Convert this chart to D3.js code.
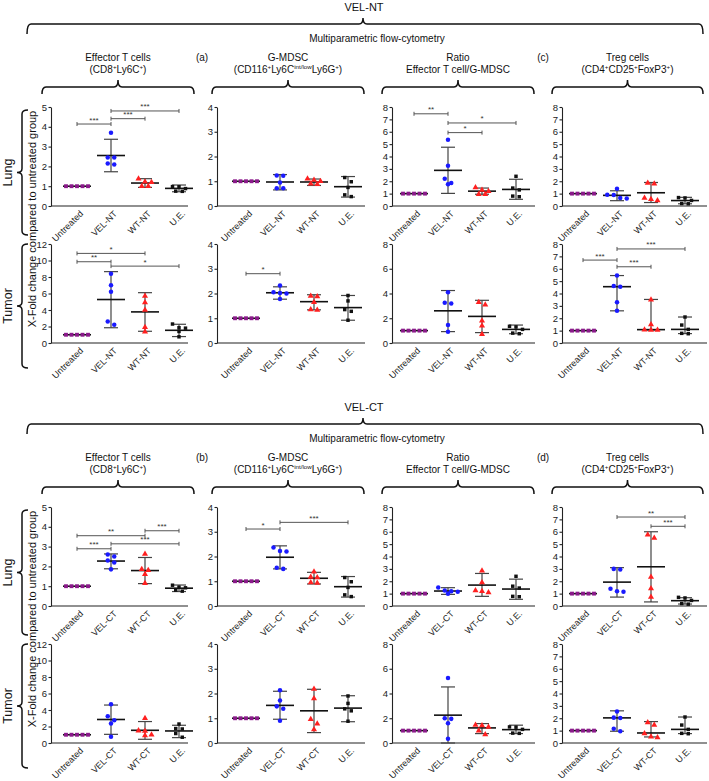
<!DOCTYPE html>
<html><head><meta charset="utf-8">
<script src="https://cdn.jsdelivr.net/npm/d3@7"></script>
<style>body{margin:0;background:#fff}svg{display:block}</style>
</head><body>
<svg id="c" width="709" height="781"></svg>
<script>
// ---------------- DATA ----------------
const groupsNT = ["Untreated", "VEL-NT", "WT-NT", "U.E."];
const groupsCT = ["Untreated", "VEL-CT", "WT-CT", "U.E."];
const sectionLabels = ["VEL-NT", "VEL-CT"];
const panelLetters = [["(a)", "(c)"], ["(b)", "(d)"]];
const rowLabels = ["Lung", "Tumor"];
const yTitle = "X-Fold change compared to untreated group";
const subTitle = "Multiparametric flow-cytometry";
const colTitles = ["Effector T cells", "G-MDSC", "Ratio", "Treg cells"];
const colSubTitles = [
  [["(CD8", 0], ["+", 1], ["Ly6C", 0], ["+", 1], [")", 0]],
  [["(CD116", 0], ["+", 1], ["Ly6C", 0], ["int/low", 1], ["Ly6G", 0], ["+", 1], [")", 0]],
  [["Effector T cell/G-MDSC", 0]],
  [["(CD4", 0], ["+", 1], ["CD25", 0], ["+", 1], ["FoxP3", 0], ["+", 1], [")", 0]]
];
const yMaxLung = [5, 4, 8, 8];
const yStepLung = [1, 1, 1, 1];
const yMaxTumor = [12, 4, 8, 8];
const yStepTumor = [2, 1, 2, 1];

// VEL-NT, Lung
const ntLungEffPts = [[1,1,1,1,1],[3.7,2.45,2.45,2.15,2.1],[1.38,1.22,1.2,1.0,1.0],[0.98,0.97,0.88,0.75,0.74]];
const ntLungEffMid = [1, 2.55, 1.16, 0.89];
const ntLungEffLo  = [1, 1.73, 0.94, 0.72];
const ntLungEffHi  = [1, 3.37, 1.38, 1.06];
const ntLungEffSig = [[0,1,4.14,"***"],[1,2,4.41,"***"],[1,3,4.8,"***"]];

const ntLungMdscPts = [[1,1,1,1,1],[1.23,1.22,0.95,0.72,0.72],[1.1,1.05,1.0,0.88,0.9],[1.15,0.98,0.75,0.45,0.38]];
const ntLungMdscMid = [1, 0.97, 0.97, 0.78];
const ntLungMdscLo  = [1, 0.65, 0.83, 0.36];
const ntLungMdscHi  = [1, 1.27, 1.09, 1.19];
const ntLungMdscSig = [];

const ntLungRatioPts = [[1,1,1,1,1],[5.35,3.25,2.2,1.85,1.75],[1.5,1.3,1.2,0.95,0.95],[2.4,1.45,1.3,0.8,0.75]];
const ntLungRatioMid = [1, 2.88, 1.2, 1.34];
const ntLungRatioLo  = [1, 1.02, 0.95, 0.54];
const ntLungRatioHi  = [1, 4.75, 1.45, 2.16];
const ntLungRatioSig = [[0,1,7.45,"**"],[1,2,5.93,"*"],[1,3,6.71,"*"]];

const ntLungTregPts = [[1,1,1,1,1],[1.4,0.9,0.88,0.65,0.6],[1.85,1.8,0.65,0.55,0.45],[0.68,0.65,0.45,0.2,0.18]];
const ntLungTregMid = [1, 0.86, 1.07, 0.44];
const ntLungTregLo  = [1, 0.43, 0.28, 0.18];
const ntLungTregHi  = [1, 1.23, 1.9, 0.7];
const ntLungTregSig = [];

// VEL-NT, Tumor
const ntTumEffPts = [[1,1,1,1,1],[8.4,7.0,6.2,2.6,2.2],[5.7,4.9,4.0,1.9,1.35],[2.3,1.85,1.8,1.4,0.75]];
const ntTumEffMid = [1, 5.27, 3.77, 1.54];
const ntTumEffLo  = [1, 1.85, 1.42, 0.78];
const ntTumEffHi  = [1, 8.65, 6.1, 2.27];
const ntTumEffSig = [[0,2,10.86,"*"],[0,1,9.85,"**"],[1,3,9.32,"*"]];

const ntTumMdscPts = [[1,1,1,1,1],[2.32,2.05,2.02,2.0,1.78],[1.9,1.88,1.65,1.35,1.33],[1.92,1.7,1.35,1.28,0.92]];
const ntTumMdscMid = [1, 2.03, 1.67, 1.43];
const ntTumMdscLo  = [1, 1.77, 1.34, 0.92];
const ntTumMdscHi  = [1, 2.27, 1.95, 1.92];
const ntTumMdscSig = [[0,1,2.8,"*"]];

const ntTumRatioPts = [[1,1,1,1,1],[4.1,3.25,3.2,1.45,0.9],[3.3,3.1,1.8,1.4,0.7],[1.35,1.3,1.1,0.8,0.75]];
const ntTumRatioMid = [1, 2.6, 2.15, 1.1];
const ntTumRatioLo  = [1, 0.92, 0.84, 0.75];
const ntTumRatioHi  = [1, 4.24, 3.45, 1.45];
const ntTumRatioSig = [];

const ntTumTregPts = [[1,1,1,1,1],[5.45,4.6,4.55,3.3,2.6],[3.5,1.5,1.07,1.05,1.05],[2.1,1.45,1.1,0.78,0.75]];
const ntTumTregMid = [1, 4.55, 1.08, 1.1];
const ntTumTregLo  = [1, 2.6, 1.05, 0.76];
const ntTumTregHi  = [1, 5.45, 3.52, 2.1];
const ntTumTregSig = [[0,1,6.7,"***"],[1,2,6.16,"***"],[1,3,7.6,"***"]];

// VEL-CT, Lung
const ctLungEffPts = [[1,1,1,1,1],[2.6,2.5,2.3,2.2,1.85],[2.63,1.85,1.8,1.6,1.15],[1.05,0.95,0.92,0.8,0.75]];
const ctLungEffMid = [1, 2.27, 1.79, 0.9];
const ctLungEffLo  = [1, 1.88, 1.13, 0.73];
const ctLungEffHi  = [1, 2.63, 2.45, 1.06];
const ctLungEffSig = [[0,2,3.55,"**"],[0,1,2.89,"***"],[1,3,3.14,"***"],[2,3,3.8,"***"]];

const ctLungMdscPts = [[1,1,1,1,1],[2.36,2.22,2.2,1.55,1.5],[1.38,1.17,1.15,0.95,0.93],[1.15,0.98,0.75,0.45,0.38]];
const ctLungMdscMid = [1, 1.97, 1.12, 0.78];
const ctLungMdscLo  = [1, 1.5, 0.89, 0.36];
const ctLungMdscHi  = [1, 2.43, 1.36, 1.19];
const ctLungMdscSig = [[0,1,3.11,"*"],[1,3,3.38,"***"]];

const ctLungRatioPts = [[1,1,1,1,1],[1.5,1.25,1.2,1.15,1.0],[2.85,1.9,1.25,1.2,1.1],[2.4,1.6,1.45,0.78,0.75]];
const ctLungRatioMid = [1, 1.21, 1.69, 1.37];
const ctLungRatioLo  = [1, 0.94, 0.78, 0.54];
const ctLungRatioHi  = [1, 1.48, 2.63, 2.17];
const ctLungRatioSig = [];

const ctLungTregPts = [[1,1,1,1,1],[3.0,2.95,1.4,1.2,1.15],[5.75,5.5,2.35,1.42,0.72],[0.7,0.65,0.45,0.2,0.15]];
const ctLungTregMid = [1, 1.93, 3.17, 0.43];
const ctLungTregLo  = [1, 0.72, 0.33, 0.16];
const ctLungTregHi  = [1, 3.1, 6.0, 0.67];
const ctLungTregSig = [[1,3,7.19,"**"],[2,3,6.44,"***"]];

// VEL-CT, Tumor
const ctTumEffPts = [[1,1,1,1,1],[4.7,3.25,2.75,2.35,0.75],[3.0,1.5,1.45,1.0,0.9],[2.3,1.75,1.7,1.15,0.7]];
const ctTumEffMid = [1, 2.85, 1.54, 1.46];
const ctTumEffLo  = [1, 1.05, 0.45, 0.65];
const ctTumEffHi  = [1, 4.6, 2.6, 2.15];
const ctTumEffSig = [];

const ctTumMdscPts = [[1,1,1,1,1],[2.13,1.72,1.48,1.38,0.9],[2.18,1.8,0.96,0.78,0.55],[1.9,1.6,1.38,1.3,0.88]];
const ctTumMdscMid = [1, 1.52, 1.3, 1.41];
const ctTumMdscLo  = [1, 0.96, 0.42, 0.86];
const ctTumMdscHi  = [1, 2.09, 2.17, 1.91];
const ctTumMdscSig = [];

const ctTumRatioPts = [[1,1,1,1,1],[5.25,2.0,1.95,1.6,0.35],[1.45,1.42,1.3,1.0,0.68],[1.3,1.28,1.1,0.8,0.78]];
const ctTumRatioMid = [1, 2.25, 1.22, 1.08];
const ctTumRatioLo  = [1, 0, 0.76, 0.76];
const ctTumRatioHi  = [1, 4.53, 1.57, 1.44];
const ctTumRatioSig = [];

const ctTumTregPts = [[1,1,1,1,1],[2.55,2.05,2.02,1.15,0.95],[1.65,1.45,0.76,0.5,0.45],[2.1,1.45,1.1,0.78,0.75]];
const ctTumTregMid = [1, 2.03, 0.81, 1.1];
const ctTumTregLo  = [1, 0.95, 0.49, 0.76];
const ctTumTregHi  = [1, 2.6, 1.73, 2.1];
const ctTumTregSig = [];

// ---------------- LAYOUT / STYLE ----------------
const FONT = "Liberation Sans, Arial, Helvetica, sans-serif";
const groupColors = ["#8b1a8b", "#1a1aff", "#ff2020", "#111111"];
const groupSymbols = [d3.symbolSquare, d3.symbolCircle, d3.symbolTriangle, d3.symbolSquare];
const groupSizes = [15, 16, 16, 12];
const secOffset = [0, 400];
const axisX = [51, 217, 392, 562];
const axisEnd = [188, 365, 535, 707];
const catStart = [77, 246, 414, 583];
const rowY = [[107, 206], [244, 343]];
const braceCols = [[42, 194], [212, 364], [382, 534], [552, 703]];

const svg = d3.select("#c").attr("font-family", FONT);

function hBrace(g, x1, x2, y, depth, peak, xm) {
  xm = xm === undefined ? (x1 + x2) / 2 : xm;
  const r = 4;
  const p = `M${x1},${y + depth} Q${x1},${y} ${x1 + r},${y} L${xm - r},${y} Q${xm},${y} ${xm},${y - peak} Q${xm},${y} ${xm + r},${y} L${x2 - r},${y} Q${x2},${y} ${x2},${y + depth}`;
  g.append("path").attr("d", p).attr("fill", "none").attr("stroke", "#111").attr("stroke-width", 1.5);
}
function vBrace(g, x, y1, y2, depth, peak) {
  const ym = (y1 + y2) / 2, r = 4;
  const p = `M${x + depth},${y1} Q${x},${y1} ${x},${y1 + r} L${x},${ym - r} Q${x},${ym} ${x - peak},${ym} Q${x},${ym} ${x},${ym + r} L${x},${y2 - r} Q${x},${y2} ${x + depth},${y2}`;
  g.append("path").attr("d", p).attr("fill", "none").attr("stroke", "#111").attr("stroke-width", 1.5);
}
function richText(t, parts, size) {
  let shifted = false;
  parts.forEach(p => {
    const ts = t.append("tspan").text(p[0]);
    if (p[1]) {
      ts.attr("font-size", size * 0.62);
      if (!shifted) { ts.attr("dy", -size * 0.38); shifted = true; }
    } else {
      ts.attr("font-size", size);
      if (shifted) { ts.attr("dy", size * 0.38); shifted = false; }
    }
  });
}

function jitterOffsets(py, spacing) {
  const idx = py.map((v, i) => i).sort((a, b) => py[a] - py[b]);
  const off = new Array(py.length).fill(0);
  let clusters = [], cur = [idx[0]];
  for (let k = 1; k < idx.length; k++) {
    if (Math.abs(py[idx[k]] - py[cur[0]]) < 4.5) cur.push(idx[k]);
    else { clusters.push(cur); cur = [idx[k]]; }
  }
  clusters.push(cur);
  clusters.forEach(c => c.forEach((i, k) => { off[i] = (k - (c.length - 1) / 2) * spacing; }));
  return off;
}

function drawPanel(sec, row, col, groups, pts, mid, lo, hi, sig, ymax, step) {
  const off = secOffset[sec];
  const [yt, yb] = rowY[row];
  const g = svg.append("g");
  const y = d3.scaleLinear().domain([0, ymax]).range([yb + off, yt + off]);
  const x = d3.scalePoint().domain(groups).range([catStart[col], catStart[col] + 102]);
  // y axis
  const ya = g.append("g").attr("transform", `translate(${axisX[col]},0)`)
    .call(d3.axisLeft(y).tickValues(d3.range(0, ymax + 0.001, step)).tickSize(2.5).tickSizeOuter(0).tickPadding(1.5).tickFormat(d3.format("d")));
  ya.select(".domain").attr("stroke", "#222").attr("stroke-width", 1.1);
  ya.selectAll(".tick line").attr("stroke", "#222").attr("stroke-width", 1.1);
  ya.selectAll(".tick text").attr("font-size", 9.5).attr("fill", "#222").attr("font-family", FONT);
  // x axis
  g.append("line").attr("x1", axisX[col]).attr("x2", axisEnd[col]).attr("y1", y(0)).attr("y2", y(0))
    .attr("stroke", "#222").attr("stroke-width", 1.1);
  const xa = g.append("g").attr("transform", `translate(0,${y(0)})`)
    .call(d3.axisBottom(x).tickSize(0).tickSizeOuter(0));
  xa.select(".domain").remove();
  xa.selectAll(".tick text").attr("font-size", 9).attr("fill", "#222").attr("font-family", FONT)
    .attr("text-anchor", "end").attr("x", 0).attr("y", 0).attr("dy", "0.35em")
    .attr("transform", "translate(4,6) rotate(-45)");
  // error bars + center lines
  groups.forEach((gname, i) => {
    const cx = x(gname);
    const eg = g.append("g");
    if (hi[i] !== lo[i]) {
      eg.append("line").attr("x1", cx).attr("x2", cx).attr("y1", y(lo[i])).attr("y2", y(hi[i]))
        .attr("stroke", "#444").attr("stroke-width", 1.2);
      [lo[i], hi[i]].forEach(v => {
        eg.append("line").attr("x1", cx - 7).attr("x2", cx + 7).attr("y1", y(v)).attr("y2", y(v))
          .attr("stroke", "#444").attr("stroke-width", 1.2);
      });
    }
    eg.append("line").attr("x1", cx - 14).attr("x2", cx + 14).attr("y1", y(mid[i])).attr("y2", y(mid[i]))
      .attr("stroke", "#111").attr("stroke-width", 1.6);
  });
  // points
  groups.forEach((gname, i) => {
    const cx = x(gname);
    const py = pts[i].map(v => y(v));
    const jo = jitterOffsets(py, i === 0 ? 5.5 : 6.5);
    const sym = d3.symbol().type(groupSymbols[i]).size(groupSizes[i]);
    g.append("g").selectAll("path").data(pts[i]).join("path")
      .attr("d", sym)
      .attr("transform", (d, k) => `translate(${cx + jo[k]},${y(d)})`)
      .attr("fill", groupColors[i]);
  });
  // significance brackets
  sig.forEach(s => {
    const x1 = x(groups[s[0]]), x2 = x(groups[s[1]]), yy = y(s[2]);
    const bg = g.append("g").attr("stroke", "#555").attr("stroke-width", 1);
    bg.append("line").attr("x1", x1).attr("x2", x2).attr("y1", yy).attr("y2", yy);
    bg.append("line").attr("x1", x1).attr("x2", x1).attr("y1", yy - 2).attr("y2", yy + 2);
    bg.append("line").attr("x1", x2).attr("x2", x2).attr("y1", yy - 2).attr("y2", yy + 2);
    g.append("text").attr("x", (x1 + x2) / 2).attr("y", yy - 1.5).attr("text-anchor", "middle")
      .attr("font-size", 8).attr("fill", "#333").text(s[3]);
  });
}

// ---------------- HEADERS ----------------
[0, 1].forEach(sec => {
  const off = secOffset[sec];
  const g = svg.append("g");
  g.append("text").attr("x", 364).attr("y", off + 11).attr("text-anchor", "middle")
    .attr("font-size", 11).attr("fill", "#111").text(sectionLabels[sec]);
  hBrace(g, 27, 703, off + 24, 10, 6, 363);
  g.append("text").attr("x", 377).attr("y", off + 42).attr("text-anchor", "middle")
    .attr("font-size", 10).attr("fill", "#111").text(subTitle);
  colTitles.forEach((t, c) => {
    const cx = (braceCols[c][0] + braceCols[c][1]) / 2;
    g.append("text").attr("x", cx).attr("y", off + 61).attr("text-anchor", "middle")
      .attr("font-size", 10).attr("fill", "#111").text(t);
    const t2 = g.append("text").attr("x", cx).attr("y", off + 73).attr("text-anchor", "middle").attr("fill", "#111");
    richText(t2, colSubTitles[c], 10);
    hBrace(g, braceCols[c][0], braceCols[c][1], off + 87, 7, 7);
  });
  g.append("text").attr("x", 202).attr("y", off + 61).attr("text-anchor", "middle")
    .attr("font-size", 10).attr("fill", "#111").text(panelLetters[sec][0]);
  g.append("text").attr("x", 543).attr("y", off + 61).attr("text-anchor", "middle")
    .attr("font-size", 10).attr("fill", "#111").text(panelLetters[sec][1]);
  // row braces + labels
  const rowBr = [[110, 235], [244, 368]];
  rowBr.forEach((rb, r) => {
    vBrace(g, 22, off + rb[0], off + rb[1], 6, 5);
    const cy = off + (rb[0] + rb[1]) / 2;
    g.append("text").attr("transform", `translate(12,${cy}) rotate(-90)`).attr("text-anchor", "middle")
      .attr("font-size", 12.5).attr("fill", "#111").text(rowLabels[r]);
  });
  g.append("text").attr("transform", `translate(36,${off + 219}) rotate(-90)`).attr("text-anchor", "middle")
    .attr("font-size", 11).attr("fill", "#111").text(yTitle);
});

// ---------------- PANELS ----------------
drawPanel(0, 0, 0, groupsNT, ntLungEffPts, ntLungEffMid, ntLungEffLo, ntLungEffHi, ntLungEffSig, yMaxLung[0], yStepLung[0]);
drawPanel(0, 0, 1, groupsNT, ntLungMdscPts, ntLungMdscMid, ntLungMdscLo, ntLungMdscHi, ntLungMdscSig, yMaxLung[1], yStepLung[1]);
drawPanel(0, 0, 2, groupsNT, ntLungRatioPts, ntLungRatioMid, ntLungRatioLo, ntLungRatioHi, ntLungRatioSig, yMaxLung[2], yStepLung[2]);
drawPanel(0, 0, 3, groupsNT, ntLungTregPts, ntLungTregMid, ntLungTregLo, ntLungTregHi, ntLungTregSig, yMaxLung[3], yStepLung[3]);
drawPanel(0, 1, 0, groupsNT, ntTumEffPts, ntTumEffMid, ntTumEffLo, ntTumEffHi, ntTumEffSig, yMaxTumor[0], yStepTumor[0]);
drawPanel(0, 1, 1, groupsNT, ntTumMdscPts, ntTumMdscMid, ntTumMdscLo, ntTumMdscHi, ntTumMdscSig, yMaxTumor[1], yStepTumor[1]);
drawPanel(0, 1, 2, groupsNT, ntTumRatioPts, ntTumRatioMid, ntTumRatioLo, ntTumRatioHi, ntTumRatioSig, yMaxTumor[2], yStepTumor[2]);
drawPanel(0, 1, 3, groupsNT, ntTumTregPts, ntTumTregMid, ntTumTregLo, ntTumTregHi, ntTumTregSig, yMaxTumor[3], yStepTumor[3]);
drawPanel(1, 0, 0, groupsCT, ctLungEffPts, ctLungEffMid, ctLungEffLo, ctLungEffHi, ctLungEffSig, yMaxLung[0], yStepLung[0]);
drawPanel(1, 0, 1, groupsCT, ctLungMdscPts, ctLungMdscMid, ctLungMdscLo, ctLungMdscHi, ctLungMdscSig, yMaxLung[1], yStepLung[1]);
drawPanel(1, 0, 2, groupsCT, ctLungRatioPts, ctLungRatioMid, ctLungRatioLo, ctLungRatioHi, ctLungRatioSig, yMaxLung[2], yStepLung[2]);
drawPanel(1, 0, 3, groupsCT, ctLungTregPts, ctLungTregMid, ctLungTregLo, ctLungTregHi, ctLungTregSig, yMaxLung[3], yStepLung[3]);
drawPanel(1, 1, 0, groupsCT, ctTumEffPts, ctTumEffMid, ctTumEffLo, ctTumEffHi, ctTumEffSig, yMaxTumor[0], yStepTumor[0]);
drawPanel(1, 1, 1, groupsCT, ctTumMdscPts, ctTumMdscMid, ctTumMdscLo, ctTumMdscHi, ctTumMdscSig, yMaxTumor[1], yStepTumor[1]);
drawPanel(1, 1, 2, groupsCT, ctTumRatioPts, ctTumRatioMid, ctTumRatioLo, ctTumRatioHi, ctTumRatioSig, yMaxTumor[2], yStepTumor[2]);
drawPanel(1, 1, 3, groupsCT, ctTumTregPts, ctTumTregMid, ctTumTregLo, ctTumTregHi, ctTumTregSig, yMaxTumor[3], yStepTumor[3]);
</script>
</body></html>
